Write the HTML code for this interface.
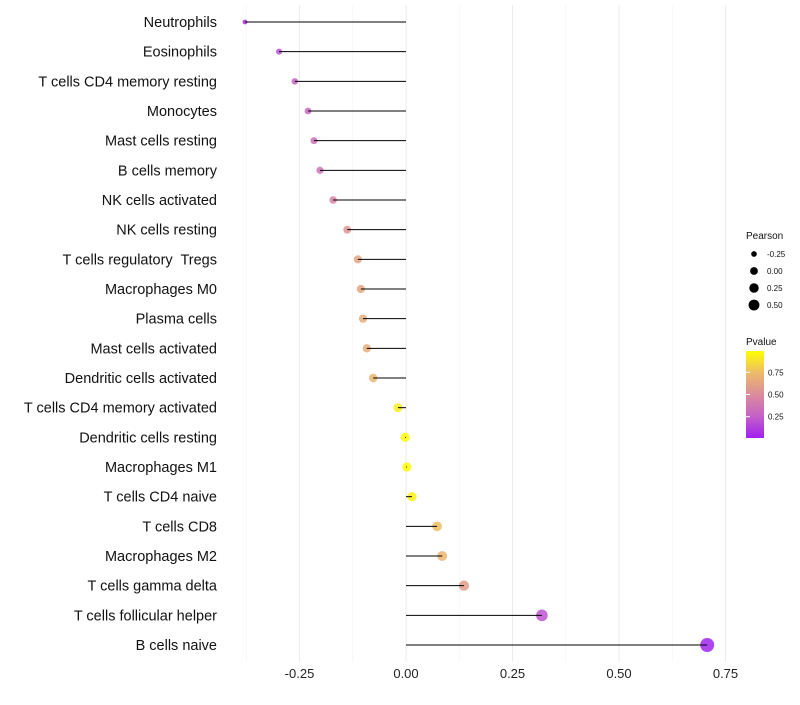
<!DOCTYPE html>
<html><head><meta charset="utf-8"><style>
body{margin:0;background:#fff;font-family:"Liberation Sans",sans-serif}
text{white-space:pre}
</style></head><body>
<svg id="chart" width="800" height="700" xmlns="http://www.w3.org/2000/svg" font-family="Liberation Sans, sans-serif">
<defs><linearGradient id="pg" x1="0" y1="1" x2="0" y2="0">
<stop offset="0" stop-color="#A020F0"/><stop offset="0.25" stop-color="#C560C8"/><stop offset="0.5" stop-color="#DB8C9C"/><stop offset="0.75" stop-color="#EDBB68"/><stop offset="1" stop-color="#FFFF00"/>
</linearGradient></defs>
<g id="grid"></g><g id="marks"></g><g id="ylabels"></g><g id="xticks"></g><g id="legend"></g>
</svg>
<script>
const categories=["Neutrophils","Eosinophils","T cells CD4 memory resting","Monocytes","Mast cells resting","B cells memory","NK cells activated","NK cells resting","T cells regulatory  Tregs","Macrophages M0","Plasma cells","Mast cells activated","Dendritic cells activated","T cells CD4 memory activated","Dendritic cells resting","Macrophages M1","T cells CD4 naive","T cells CD8","Macrophages M2","T cells gamma delta","T cells follicular helper","B cells naive"];
const pearson=[-0.378,-0.298,-0.261,-0.230,-0.216,-0.202,-0.171,-0.138,-0.113,-0.106,-0.101,-0.092,-0.077,-0.019,-0.002,0.002,0.014,0.073,0.085,0.136,0.319,0.707];
const pvalue=[0.06,0.18,0.26,0.30,0.33,0.36,0.45,0.55,0.63,0.64,0.66,0.68,0.72,0.93,0.99,0.99,0.95,0.76,0.72,0.58,0.20,0.01];
const xTicks=[-0.25,0,0.25,0.5,0.75];
const xTickLabels=["-0.25","0.00","0.25","0.50","0.75"];
const sizeLegend=[-0.25,0,0.25,0.5];
const sizeLegendLabels=["-0.25","0.00","0.25","0.50"];
const pTicks=[0.25,0.5,0.75];
const pTickLabels=["0.25","0.50","0.75"];

const NS="http://www.w3.org/2000/svg";
const x=v=>406+v*426;
const y=i=>22+i*29.667;
const r=v=>Math.sqrt(Math.max(2.25,20.9+39.8*v));
const stops=[[0,[160,32,240]],[0.25,[197,96,200]],[0.5,[219,140,156]],[0.75,[237,187,104]],[1,[255,255,0]]];
function col(p){for(let k=1;k<stops.length;k++){if(p<=stops[k][0]){const a=stops[k-1],b=stops[k];const t=(p-a[0])/(b[0]-a[0]);return "rgb("+a[1].map((c,j)=>Math.round(c+(b[1][j]-c)*t)).join(",")+")";}}return "rgb(255,255,0)";}
function mk(tag,attrs,parent){const e=document.createElementNS(NS,tag);for(const k in attrs)e.setAttribute(k,attrs[k]);document.getElementById(parent).appendChild(e);return e;}

[-0.375,-0.125,0.125,0.375,0.625].forEach(v=>{const l=mk("line",{x1:x(v),x2:x(v),y1:5,y2:662,stroke:"#f2f2f2","stroke-width":0.6},"grid");

});
xTicks.forEach((v,i)=>{const l=mk("line",{x1:x(v),x2:x(v),y1:5,y2:662,stroke:"#ebebeb","stroke-width":1},"grid");


const t=mk("text",{x:x(v),y:678,"text-anchor":"middle","font-size":13,fill:"#222"},"xticks");t.textContent=xTickLabels[i];

});

categories.forEach((c,i)=>{
const t=mk("text",{x:217,y:y(i)+5,"text-anchor":"end","font-size":14.5,fill:"#111"},"ylabels");t.textContent=c;


const pt=mk("circle",{cx:x(pearson[i]),cy:y(i),r:r(pearson[i]),fill:col(pvalue[i]),"fill-opacity":0.85},"marks");


const s=mk("line",{x1:x(0),x2:x(pearson[i]),y1:y(i),y2:y(i),stroke:"#000","stroke-width":1},"marks");


});

let t=mk("text",{x:746,y:239,"font-size":10,fill:"#111"},"legend");t.textContent="Pearson";


sizeLegend.forEach((v,i)=>{const cy=254+i*17;
const c=mk("circle",{cx:754,cy:cy,r:r(v)*0.85,fill:"#000"},"legend");


const l=mk("text",{x:767,y:cy+3,"font-size":8,fill:"#111"},"legend");l.textContent=sizeLegendLabels[i];

});
t=mk("text",{x:746,y:345,"font-size":10,fill:"#111"},"legend");t.textContent="Pvalue";


const bar=mk("rect",{x:746,y:351,width:18,height:87,fill:"url(#pg)"},"legend");


const py=p=>438-(p-0.01)/(0.99-0.01)*87;
pTicks.forEach((v,i)=>{
const tk=mk("line",{x1:746,x2:750,y1:py(v),y2:py(v),stroke:"#fff"},"legend");


const l=mk("text",{x:768,y:py(v)+3,"font-size":8,fill:"#111"},"legend");l.textContent=pTickLabels[i];

});
</script>
</body></html>
